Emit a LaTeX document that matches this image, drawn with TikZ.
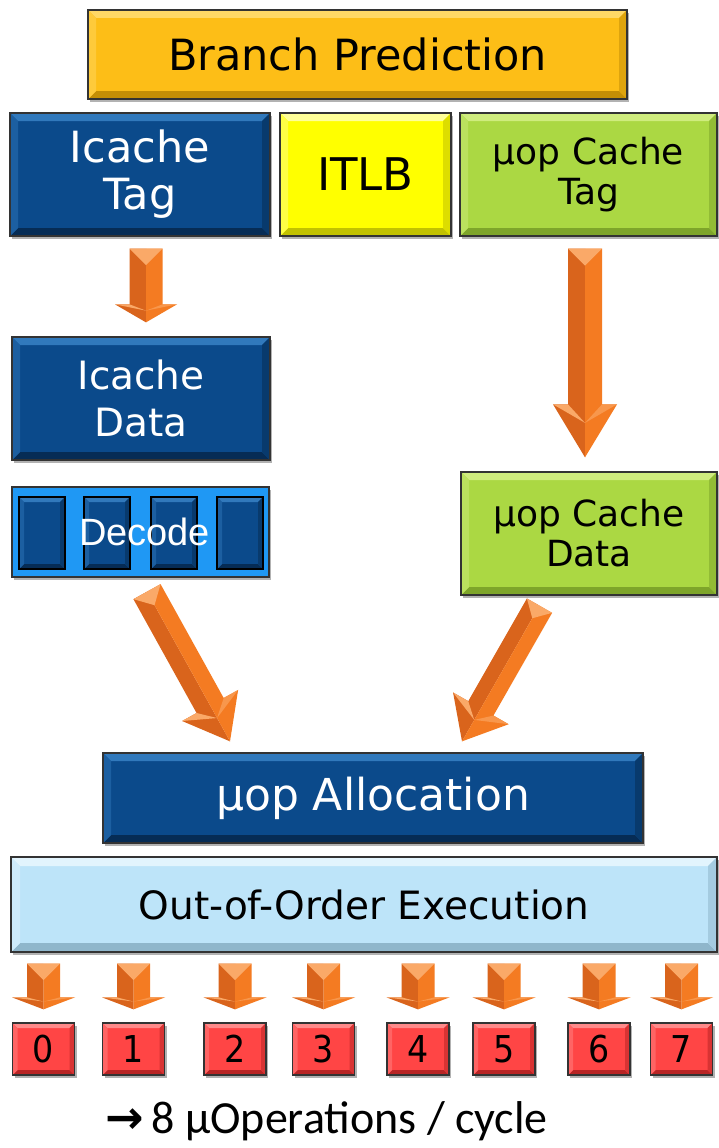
\documentclass[tikz,border=0pt]{standalone}
\usepackage{fontspec}
\usetikzlibrary{calc,shadows}
\newfontfamily\boxfont{DejaVu Sans}
\newfontfamily\digfont{DejaVu Sans}[FakeStretch=0.9]
\newfontfamily\decfont{Liberation Sans}
\newfontfamily\capfont{Carlito}
\newfontfamily\symfont{DejaVu Sans Bold}
\definecolor{blueM}{HTML}{0B4A8B}\definecolor{blueL}{HTML}{3179BC}\definecolor{blueD}{HTML}{062C55}
\definecolor{bpM}{HTML}{FDBE17}\definecolor{bpL}{HTML}{FFD866}\definecolor{bpD}{HTML}{C48E05}
\definecolor{ylM}{HTML}{FFFF00}\definecolor{ylL}{HTML}{FFFF99}\definecolor{ylD}{HTML}{C2C200}
\definecolor{grM}{HTML}{ABD843}\definecolor{grL}{HTML}{CFEC7E}\definecolor{grD}{HTML}{7EA52A}
\definecolor{oooM}{HTML}{BDE4F9}\definecolor{oooL}{HTML}{E2F4FD}\definecolor{oooD}{HTML}{8FB6CB}
\definecolor{rdM}{HTML}{FF4545}\definecolor{rdL}{HTML}{FF8A8A}\definecolor{rdD}{HTML}{B82424}
\definecolor{decbg}{HTML}{1F98F4}
\definecolor{arD}{HTML}{D9641C}\definecolor{arL}{HTML}{F47B22}\definecolor{arF}{HTML}{FAA968}
\tikzset{
  bev/.style n args={4}{fill=#1, path picture={
    \fill[#2] (path picture bounding box.north west) -- (path picture bounding box.north east)
      -- ([shift={(-#4,-#4)}]path picture bounding box.north east) -- ([shift={(#4,-#4)}]path picture bounding box.north west) -- cycle;
    \fill[#3] (path picture bounding box.south west) -- (path picture bounding box.south east)
      -- ([shift={(-#4,#4)}]path picture bounding box.south east) -- ([shift={(#4,#4)}]path picture bounding box.south west) -- cycle;
    \fill[#2!45!#1] (path picture bounding box.north west) -- (path picture bounding box.south west)
      -- ([shift={(#4,#4)}]path picture bounding box.south west) -- ([shift={(#4,-#4)}]path picture bounding box.north west) -- cycle;
    \fill[#3!55!#1] (path picture bounding box.north east) -- (path picture bounding box.south east)
      -- ([shift={(-#4,#4)}]path picture bounding box.south east) -- ([shift={(-#4,-#4)}]path picture bounding box.north east) -- cycle;
  }},
  box/.style={draw=black!80, line width=1.3pt, inner sep=0pt, align=center,
    drop shadow={shadow xshift=2pt, shadow yshift=-3pt, opacity=0.3, fill=black}},
}
\newcommand\fatarrow[6]{%
  \coordinate (#1S) at #2; \coordinate (#1T) at #3;
  \coordinate (#1N) at ($(#1T)!#6!(#1S)$);
  \coordinate (#1Sl) at ($(#1S)!#4!-90:(#1T)$);
  \coordinate (#1Sr) at ($(#1S)!#4!90:(#1T)$);
  \coordinate (#1Nl) at ($(#1N)!#4!90:(#1S)$);
  \coordinate (#1Nr) at ($(#1N)!#4!-90:(#1S)$);
  \coordinate (#1Hl) at ($(#1N)!#5!90:(#1S)$);
  \coordinate (#1Hr) at ($(#1N)!#5!-90:(#1S)$);
  \fill[arD] (#1S) -- (#1Sl) -- (#1Nl) -- (#1Hl) -- (#1T) -- cycle;
  \fill[arL] (#1S) -- (#1Sr) -- (#1Nr) -- (#1Hr) -- (#1T) -- cycle;
  \fill[arF] (#1Hl) -- (#1Nl) -- ($(#1N)!0.35!(#1T)$) -- cycle;
  \fill[arF!60!arL] (#1Hr) -- (#1Nr) -- ($(#1N)!0.35!(#1T)$) -- cycle;
  \fill[arF] (#1Sl) -- (#1Sr) -- ($(#1S)!#4!(#1T)$) -- cycle;
}
\begin{document}
\begin{tikzpicture}[x=1pt,y=-1pt]
\fill[white] (0,0) rectangle (718,1148);
\path[use as bounding box] (0,0) rectangle (718,1148);

% top row
\node[box, bev={bpM}{bpL}{bpD}{8pt}, minimum width=539pt, minimum height=89pt,
  font={\boxfont\fontsize{43}{48}\selectfont}] (bp) at (357.5,54.5) {Branch Prediction};
\node[box, bev={blueM}{blueL}{blueD}{8pt}, minimum width=260pt, minimum height=123pt, text=white,
  font={\boxfont\fontsize{43}{47}\selectfont}] (itag) at (140,174.5) {Icache\\Tag};
\node[box, bev={ylM}{ylL}{ylD}{8pt}, minimum width=171pt, minimum height=123pt,
  font={\boxfont\fontsize{45}{48}\selectfont}] (itlb) at (365.5,174.5) {ITLB};
\node[box, bev={grM}{grL}{grD}{8pt}, minimum width=257pt, minimum height=123pt,
  font={\boxfont\fontsize{36}{40}\selectfont}] (utag) at (588.5,174.5) {μop Cache\\Tag};

% left column
\node[box, bev={blueM}{blueL}{blueD}{8pt}, minimum width=258pt, minimum height=123pt, text=white,
  font={\boxfont\fontsize{39}{47}\selectfont}] (idata) at (141,398.5) {Icache\\Data};
\node[box, fill=decbg, minimum width=257pt, minimum height=90pt] (decode) at (140.5,532) {};
\foreach \j/\x in {1/42,2/107,3/174,4/240}
  \node[draw=black, line width=1.2pt, bev={blueM}{blueL}{blueD}{5pt}, minimum width=46pt, minimum height=72pt, inner sep=0pt] (d\j) at (\x,533) {};
\node[text=white, font={\decfont\fontsize{38}{40}\selectfont}, inner sep=0pt] (dectext) at ($(decode.center)+(4,0)$) {Decode};

% right column
\node[box, bev={grM}{grL}{grD}{8pt}, minimum width=256pt, minimum height=123pt,
  font={\boxfont\fontsize{36}{40}\selectfont}] (udata) at (589,533.5) {μop Cache\\Data};

% allocation and execution
\node[box, bev={blueM}{blueL}{blueD}{8pt}, minimum width=540pt, minimum height=90pt, text=white,
  font={\boxfont\fontsize{44}{48}\selectfont}] (alloc) at (373,798) {μop Allocation};
\node[box, bev={oooM}{oooL}{oooD}{9pt}, minimum width=706pt, minimum height=95pt,
  font={\boxfont\fontsize{39}{42}\selectfont}] (ooo) at (364,904.5) {Out-of-Order Execution};

% arrows
\fatarrow{aI}{($(itag.south)+(6,12)$)}{($(idata.north)+(5,-14)$)}{16.5pt}{31pt}{18pt}
\fatarrow{aU}{($(utag.south)+(-3.5,12)$)}{($(udata.north)+(-4,-14)$)}{17pt}{32pt}{53pt}
\fatarrow{aL}{($(decode.south)+(6.5,14)$)}{($(alloc.north)+(-143,-11)$)}{15.5pt}{32pt}{41pt}
\fatarrow{aR}{($(udata.south)+(-49.5,10)$)}{($(alloc.north)+(89,-11)$)}{14.5pt}{32pt}{38pt}

% execution ports
\foreach \i/\x in {0/43.5,1/133.5,2/235,3/323.5,4/418,5/504,6/599,7/681.5} {
  \node[box, bev={rdM}{rdL}{rdD}{5pt}, minimum width=62pt, minimum height=52pt,
    font={\digfont\fontsize{37}{37}\selectfont}] (r\i) at (\x,1049) {\i};
  \fatarrow{p\i}{($(r\i.north |- ooo.south)+(0,11)$)}{($(r\i.north)+(0,-13)$)}{16.5pt}{31.5pt}{12pt}
}

% caption
\node[anchor=base, inner sep=0pt, font={\capfont\fontsize{46}{50}\selectfont}] (cap) at (326.5,1133)
  {{\symfont\fontsize{46}{48}\selectfont →}\,8 μOperations / cycle};
\end{tikzpicture}
\end{document}
